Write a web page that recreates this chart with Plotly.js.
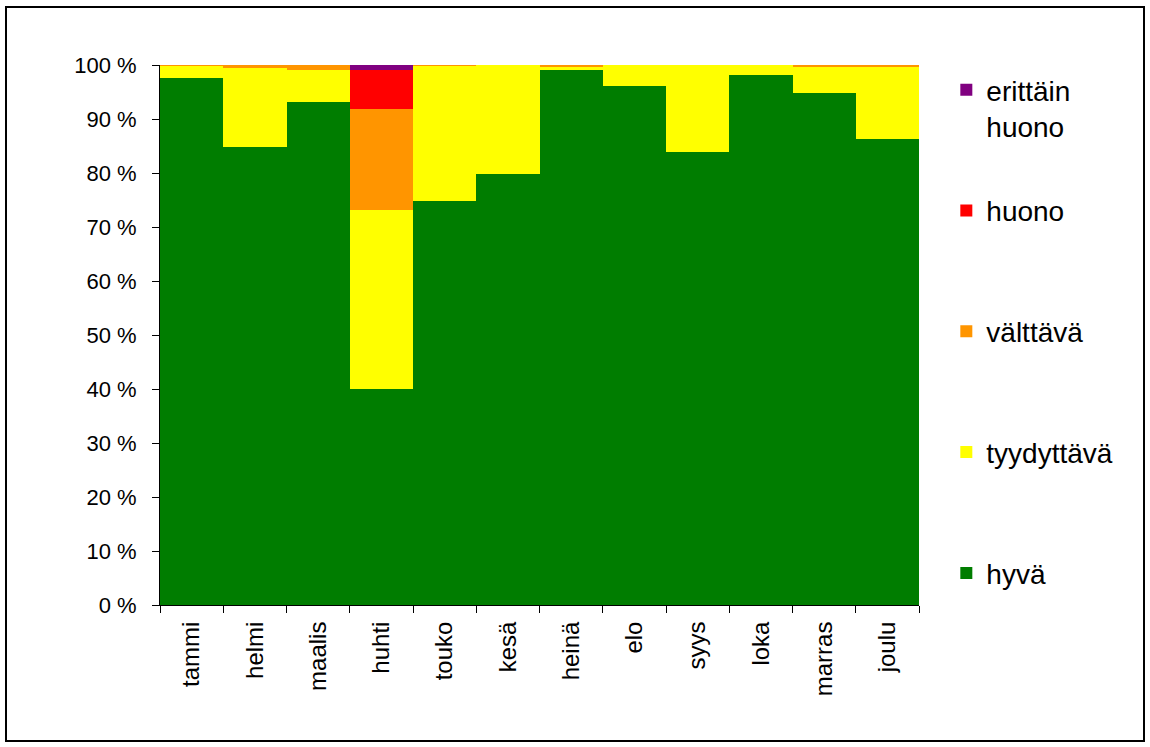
<!DOCTYPE html>
<html><head><meta charset="utf-8">
<script src="https://cdn.plot.ly/plotly-3.0.1.min.js"></script>
<style>
html,body{margin:0;padding:0;background:#fff;}
#wrap{position:relative;width:1150px;height:747px;}
#chart{position:absolute;left:0;top:0;width:1150px;height:747px;}
#frame{position:absolute;left:5px;top:6px;width:1136px;height:732px;border:2px solid #000;pointer-events:none;}
</style></head>
<body>
<div id="wrap"><div id="chart"></div><div id="frame"></div></div>
<script>
const months = ['tammi','helmi','maalis','huhti','touko','kesä','heinä','elo','syys','loka','marras','joulu'];
const hyva       = [97.6, 84.8, 93.1, 40.0, 74.8, 79.8, 99.1, 96.2, 83.9, 98.1, 94.9, 86.3];
const tyydyttava = [ 2.2, 14.6,  6.0, 33.1, 25.0, 20.2,  0.5,  3.8, 16.1,  1.9,  4.7, 13.3];
const valttava   = [ 0.2,  0.6,  0.9, 18.7,  0.2,  0.0,  0.4,  0.0,  0.0,  0.0,  0.4,  0.4];
const huono      = [ 0.0,  0.0,  0.0,  7.3,  0.0,  0.0,  0.0,  0.0,  0.0,  0.0,  0.0,  0.0];
const erittain   = [ 0.0,  0.0,  0.0,  0.9,  0.0,  0.0,  0.0,  0.0,  0.0,  0.0,  0.0,  0.0];
const yTicks = [0,10,20,30,40,50,60,70,80,90,100];
const yTickText = yTicks.map(v => v + ' %');

const series = [
  {name:'hyvä<br>\u00a0', y:hyva, color:'#007d00'},
  {name:'tyydyttävä<br>\u00a0', y:tyydyttava, color:'#ffff00'},
  {name:'välttävä<br>\u00a0', y:valttava, color:'#ff9500'},
  {name:'huono<br>\u00a0', y:huono, color:'#ff0000'},
  {name:'erittäin<br>huono', y:erittain, color:'#800080'}
];
const traces = series.map((s,i) => ({
  type:'bar', x:months, y:s.y, name:s.name, legendgroup:'g'+i,
  legendrank: 5 - i,
  marker:{color:s.color, line:{width:0}},
  hoverinfo:'x+y'
}));

const layout = {
  width:1150, height:747,
  margin:{l:160, r:231, t:65, b:142},
  barmode:'stack', bargap:0,
  paper_bgcolor:'#fff', plot_bgcolor:'#fff',
  font:{family:'Liberation Sans, Arial, sans-serif', color:'#000'},
  xaxis:{
    type:'category', tickangle:-90, tickson:'boundaries',
    ticks:'outside', ticklen:7, tickcolor:'#000', tickwidth:1,
    showline:true, linecolor:'#000', linewidth:1,
    tickfont:{size:24}, showgrid:false, ticklabelstandoff:6
  },
  yaxis:{
    range:[0,100], tickvals:yTicks, ticktext:yTickText,
    ticks:'outside', ticklen:7, tickcolor:'#000', tickwidth:1,
    showline:true, linecolor:'#000', linewidth:1,
    tickfont:{size:22}, showgrid:false, zeroline:false, ticklabelstandoff:11
  },
  legend:{
    x:1.036, y:1.0, xanchor:'left', yanchor:'top',
    traceorder:'grouped', tracegroupgap:45, valign:'top',
    font:{size:28}, itemwidth:30, bgcolor:'rgba(0,0,0,0)'
  },
  showlegend:true
};
Plotly.newPlot('chart', traces, layout, {displayModeBar:false, staticPlot:true});
</script>
</body></html>
